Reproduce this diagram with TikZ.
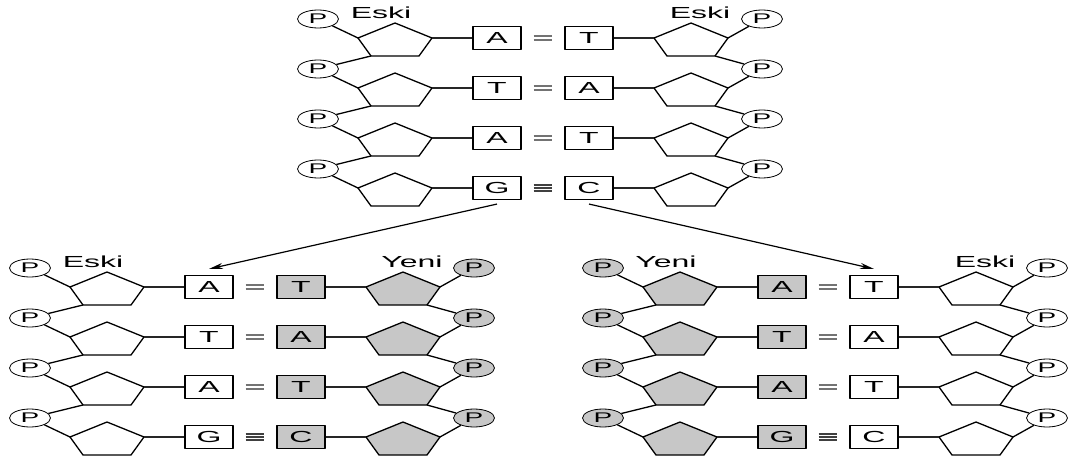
\documentclass[tikz,border=0pt]{standalone}
\usepackage{fontspec}
\usepackage{graphicx}
\setmainfont{Liberation Sans}
\usetikzlibrary{shapes.geometric,arrows.meta}
\colorlet{yeni}{black!22}
\newcommand{\wide}[1]{\scalebox{2}[1]{#1}}
\begin{document}
\begin{tikzpicture}[x=1pt,y=-1pt,line join=round,
  nucleo/.style={draw,line width=1.1pt,minimum width=48pt,minimum height=23pt,inner sep=0pt,font=\fontsize{16}{16}\selectfont},
  phos/.style={draw,ellipse,line width=0.8pt,minimum width=41pt,minimum height=18pt,inner sep=0pt,font=\fontsize{14}{14}\selectfont},
  etiket/.style={inner sep=0pt,font=\fontsize{16}{16}\selectfont},
  sugar/.style={draw,line width=1.3pt},
  chain/.style={line width=1.3pt},
  glyco/.style={line width=1.1pt,black!85},
  atbond/.style={line width=1.2pt,black!55,shorten <=12pt,shorten >=12pt},
  gcbond/.style={line width=1.2pt,black!75,shorten <=12pt,shorten >=12pt},
  kopya/.style={-{Stealth[length=14pt,width=6pt]},line width=1.2pt}]
  \useasboundingbox (0,0) rectangle (1072,468);

  % 三段双链：上方为原链，下方为复制后的两条
  \foreach \blk/\cx/\cy/\lfill/\rfill/\llab/\rlab in
    {t/543/38/white/white/Eski/Eski, l/255/287/white/yeni/Eski/Yeni, r/828/287/yeni/white/Yeni/Eski}{
    \node[etiket] (\blk lab1) at (\cx-162,\cy-25) {\wide{\llab}};
    \node[etiket] (\blk lab2) at (\cx+157,\cy-25) {\wide{\rlab}};
    \foreach \i/\lb/\rb/\nb in {0/A/T/2,1/T/A/2,2/A/T/2,3/G/C/3}{
      \pgfmathsetmacro\y{\cy+50*\i}
      % 碱基
      \node[nucleo,fill=\lfill] (\blk L\i) at (\cx-46,\y) {\wide{\lb}};
      \node[nucleo,fill=\rfill] (\blk R\i) at (\cx+46,\y) {\wide{\rb}};
      % 磷酸
      \node[phos,fill=\lfill] (\blk PL\i) at (\cx-225,\y-19) {\wide{P}};
      \node[phos,fill=\rfill] (\blk PR\i) at (\cx+219,\y-19) {\wide{P}};
      % 五碳糖
      \draw[sugar,fill=\lfill] (\cx-185,\y) coordinate (\blk SLa\i) -- (\cx-148,\y-15)
        -- (\cx-111,\y) coordinate (\blk SLc\i) -- (\cx-124,\y+18)
        -- (\cx-172,\y+18) coordinate (\blk SLb\i) -- cycle;
      \draw[sugar,fill=\rfill] (\cx+185,\y) coordinate (\blk SRa\i) -- (\cx+148,\y-15)
        -- (\cx+111,\y) coordinate (\blk SRc\i) -- (\cx+124,\y+18)
        -- (\cx+172,\y+18) coordinate (\blk SRb\i) -- cycle;
      \draw[glyco] (\blk SLc\i) -- (\blk L\i);
      \draw[glyco] (\blk R\i) -- (\blk SRc\i);
      \draw[chain] (\blk PL\i) -- (\blk SLa\i);
      \draw[chain] (\blk PR\i) -- (\blk SRa\i);
      % 氢键
      \ifnum\nb=3
        \foreach \s in {-3,0,3}
          \draw[gcbond] ([yshift=\s pt]\blk L\i.east) -- ([yshift=\s pt]\blk R\i.west);
      \else
        \foreach \s in {-2,2}
          \draw[atbond] ([yshift=\s pt]\blk L\i.east) -- ([yshift=\s pt]\blk R\i.west);
      \fi
    }
    % 糖-磷酸骨架
    \foreach \i/\j in {0/1,1/2,2/3}{
      \draw[chain] (\blk SLb\i) -- (\blk PL\j);
      \draw[chain] (\blk SRb\i) -- (\blk PR\j);
    }
  }

  % 复制箭头
  \draw[kopya] ([yshift=-4pt]tL3.south) -- ([yshift=6pt]lL0.north);
  \draw[kopya] ([yshift=-4pt]tR3.south) -- ([yshift=6pt]rR0.north);
\end{tikzpicture}
\end{document}
